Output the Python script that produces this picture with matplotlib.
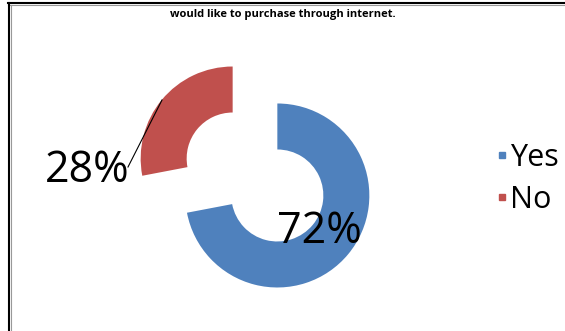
import matplotlib.pyplot as plt
from matplotlib.lines import Line2D

# Survey answers
labels = ["Yes", "No"]
shares = [72, 28]
colors = ["#4F81BD", "#C0504D"]
title = "would like to purchase through internet."

W, H = 565, 331
fig = plt.figure(figsize=[W / 100, H / 100], dpi=100, facecolor="white")
ax = fig.add_axes([0, 0, 1, 1])

# Exploded doughnut (explode is in data units here)
R = 92
wedges, _ = ax.pie(shares, colors=colors, startangle=90, counterclock=False,
                   radius=R, center=(255, H - 177), explode=[29, 29],
                   wedgeprops=dict(width=R * 0.5, linewidth=0), frame=True)
ax.set_xlim(0, W)
ax.set_ylim(0, H)
ax.set_aspect("equal")
ax.axis("off")

font = "Open Sans"
ax.text(319, H - 232, f"{shares[0]}%", fontsize=31, family=font,
        ha="center", va="center")
ax.text(87, H - 171, f"{shares[1]}%", fontsize=31, family=font,
        ha="center", va="center")
# leader line for the small slice label
ax.plot([128, 162], [H - 167, H - 100], color="black", lw=0.8)

# Legend
handles = [Line2D([], [], marker="s", ls="", markersize=5, color=c) for c in colors]
leg = ax.legend(handles, labels, loc="center left", bbox_to_anchor=(497 / W, 1 - 179 / H),
                frameon=False, prop=dict(family=font, size=22),
                handlelength=0.3, handletextpad=0.12, labelspacing=0.4,
                borderpad=0, borderaxespad=0)

fig.text(283 / W, 1 - 14 / H, title, fontsize=8, weight="bold", family=font,
         ha="center", va="center")

# Frame edges (top and left)
fig.add_artist(Line2D([8 / W, 1], [1 - 3 / H, 1 - 3 / H], color="black", lw=1.5))
fig.add_artist(Line2D([8 / W, 1], [1 - 5 / H, 1 - 5 / H], color="#999999", lw=0.8))
fig.add_artist(Line2D([9 / W, 9 / W], [0, 1 - 3 / H], color="black", lw=1.5))
fig.add_artist(Line2D([11 / W, 11 / W], [0, 1 - 5 / H], color="#999999", lw=0.8))

fig.savefig("out.png", dpi=100, facecolor="white")
